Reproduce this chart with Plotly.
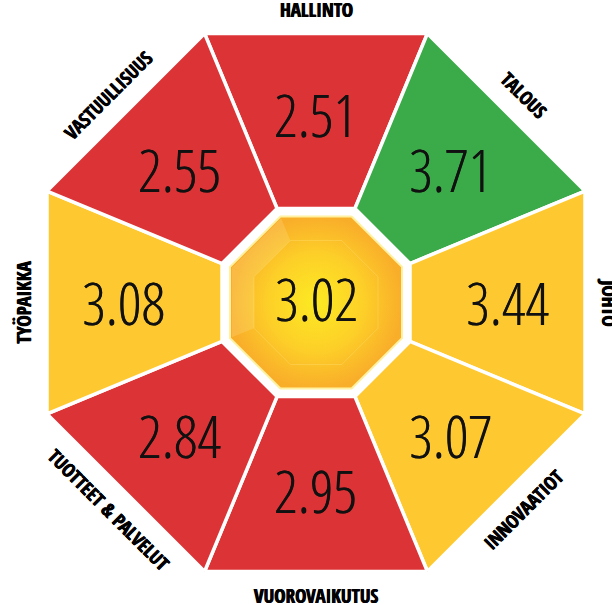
import numpy as np
import plotly.graph_objects as go

# ---- data ----
categories = ["HALLINTO", "TALOUS", "JOHTO", "INNOVAATIOT",
              "VUOROVAIKUTUS", "TUOTTEET & PALVELUT", "TYÖPAIKKA", "VASTUULLISUUS"]
values = [2.51, 3.71, 3.44, 3.07, 2.95, 2.84, 3.08, 2.55]
overall_value = 3.02

# ---- style ----
RED, YELLOW, GREEN = "#DC3436", "#FEC930", "#3BAA48"


def color_for(v):
    if v < 3.0:
        return RED
    if v < 3.5:
        return YELLOW
    return GREEN


W, H = 612, 605
CX, CY = 316, 302.5
A_OUT, A_HOLE, A_GOLD, A_INNER = 269, 94, 86, 62
K = 1 / np.cos(np.pi / 8)
NUM_CX, NUM_CY, NUM_RX, NUM_RY = 315, 302, 192, 188
LBL_R = 293
NUM_FONT = "Open Sans Condensed Light, Roboto Condensed, Liberation Sans, sans-serif"
LBL_FONT = "Open Sans Condensed, DejaVu Sans Condensed, sans-serif"
NUM_SIZE, LBL_SIZE = 59, 19


def pt(r, deg):
    t = np.radians(deg)
    return CX + r * np.sin(t), CY - r * np.cos(t)


def octagon(apothem):
    xs, ys = [], []
    for j in range(9):
        x, y = pt(apothem * K, 22.5 + 45 * j)
        xs.append(x)
        ys.append(y)
    return xs, ys


fig = go.Figure()
n = len(categories)
annotations = []
for i, (cat, v) in enumerate(zip(categories, values)):
    deg = 360 / n * i
    p1 = pt(A_OUT * K, deg - 22.5)
    p2 = pt(A_OUT * K, deg + 22.5)
    p3 = pt(A_HOLE * K, deg + 22.5)
    p4 = pt(A_HOLE * K, deg - 22.5)
    xs = [p1[0], p2[0], p3[0], p4[0], p1[0]]
    ys = [p1[1], p2[1], p3[1], p4[1], p1[1]]
    fig.add_trace(go.Scatter(x=xs, y=ys, mode="lines", fill="toself",
                             fillcolor=color_for(v),
                             line=dict(color="white", width=3.5),
                             hoverinfo="text", text=f"{cat}: {v:.2f}",
                             showlegend=False))
    t = np.radians(deg)
    nx = NUM_CX + NUM_RX * np.sin(t)
    ny = NUM_CY - NUM_RY * np.cos(t)
    annotations.append(dict(x=nx, y=ny, text=f"{v:.2f}", showarrow=False,
                            font=dict(family=NUM_FONT, size=NUM_SIZE, color="#111111",
                                      shadow="0.35px 0px 0px #111111"),
                            xanchor="center", yanchor="middle"))
    lx, ly = pt(LBL_R, deg)
    if deg <= 90:
        ang = deg
    elif deg <= 225:
        ang = deg - 180
    else:
        ang = deg - 360
    annotations.append(dict(x=lx, y=ly, text=cat, showarrow=False, textangle=ang,
                            font=dict(family=LBL_FONT, size=LBL_SIZE, color="#000000",
                                      weight="bold",
                                      shadow="0.4px 0px 0px #000000, -0.4px 0px 0px #000000"),
                            xanchor="center", yanchor="middle"))

# central gold octagon
gx, gy = octagon(A_GOLD)
fig.add_trace(go.Scatter(x=gx, y=gy, mode="lines", fill="toself",
                         fillgradient=dict(type="radial",
                                           colorscale=[[0, "#FCEA22"], [0.55, "#FDD028"], [1, "#F9AE2A"]]),
                         line=dict(color="#FFF1A0", width=2),
                         hoverinfo="skip", showlegend=False))
# subtle bevel facets
for j in (5, 6):
    a1, a2 = 22.5 + 45 * j, 22.5 + 45 * (j + 1)
    q = [pt(A_GOLD * K - 2, a1), pt(A_GOLD * K - 2, a2), pt(A_INNER * K, a2), pt(A_INNER * K, a1)]
    fig.add_trace(go.Scatter(x=[p[0] for p in q] + [q[0][0]], y=[p[1] for p in q] + [q[0][1]],
                             mode="lines", fill="toself",
                             fillcolor="rgba(255,250,200,0.16)", line=dict(width=0),
                             hoverinfo="skip", showlegend=False))
ix, iy = octagon(A_INNER)
fig.add_trace(go.Scatter(x=ix, y=iy, mode="lines",
                         line=dict(color="rgba(255,240,150,0.25)", width=1),
                         hoverinfo="skip", showlegend=False))
annotations.append(dict(x=CX, y=CY - 4.5, text=f"{overall_value:.2f}", showarrow=False,
                        font=dict(family=NUM_FONT, size=NUM_SIZE, color="#111111",
                                  shadow="0.35px 0px 0px #111111"),
                        xanchor="center", yanchor="middle"))

fig.update_layout(
    width=W, height=H, margin=dict(l=0, r=0, t=0, b=0),
    paper_bgcolor="white", plot_bgcolor="white",
    xaxis=dict(range=[0, W], visible=False, fixedrange=True),
    yaxis=dict(range=[H, 0], visible=False, fixedrange=True),
    annotations=annotations, showlegend=False,
)
fig.write_html("out.html", config={"displayModeBar": False},
               post_script="document.body.style.margin='0px';document.body.style.overflow='hidden';")
